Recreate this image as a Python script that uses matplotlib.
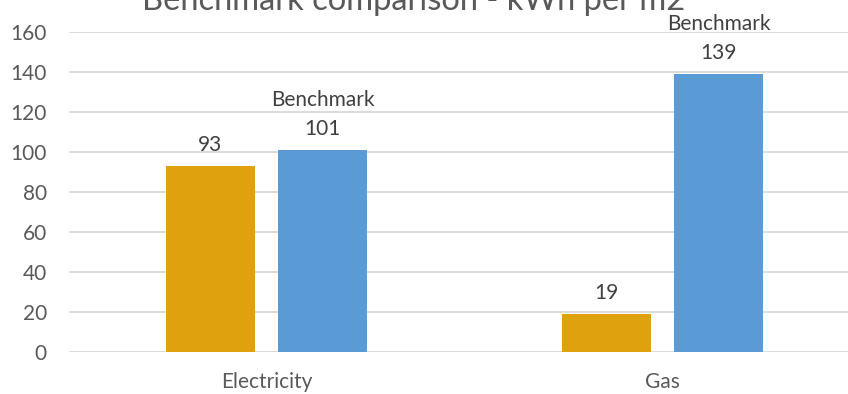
import matplotlib
matplotlib.use("Agg")
import matplotlib.pyplot as plt
import numpy as np

categories = ["Electricity", "Gas"]
actual = [93, 19]
benchmark = [101, 139]
yticks = [0, 20, 40, 60, 80, 100, 120, 140, 160]
title = "Benchmark comparison - kWh per m2"

plt.rcParams['font.family'] = ['Lato', 'DejaVu Sans']

W, H = 848, 394
fig = plt.figure(figsize=(W / 100, H / 100), dpi=100)
left_px, right_px = 68.5, 860.5
top_px, bot_px = 32, 352
ax = fig.add_axes([left_px / W, 1 - bot_px / H, (right_px - left_px) / W, (bot_px - top_px) / H])

x = np.arange(len(categories))
bw = 0.225
off = 0.1425
orange = "#DFA20E"
blue = "#5B9BD5"
ax.bar(x - off, actual, bw, color=orange, zorder=3)
ax.bar(x + off, benchmark, bw, color=blue, zorder=3)

ax.set_xlim(-0.5, len(categories) - 0.5)
ax.set_ylim(0, 160)
ax.set_yticks(yticks)
ax.set_yticklabels([str(t) for t in yticks])
ax.set_xticks(x)
ax.set_xticklabels(categories)
ax.grid(axis='y', color="#D9D9D9", linewidth=1.3, zorder=0)
for s in ax.spines.values():
    s.set_visible(False)
ax.tick_params(axis='both', length=0, labelsize=15, colors="#595959")
ax.tick_params(axis='y', pad=15.5)
ax.tick_params(axis='x', pad=14.5)

lab_col = "#404040"
fs = 15
for xi, v in zip(x - off, actual):
    ax.annotate(str(v), (xi, v), xytext=(0, 10.5), textcoords='offset points',
                ha='center', va='baseline', fontsize=fs, color=lab_col)
for xi, v in zip(x + off, benchmark):
    ax.annotate(str(v), (xi, v), xytext=(0, 10.5), textcoords='offset points',
                ha='center', va='baseline', fontsize=fs, color=lab_col)
    ax.annotate("Benchmark", (xi, v), xytext=(0, 31.5), textcoords='offset points',
                ha='center', va='baseline', fontsize=fs, color=lab_col)

fig.text(414 / W, 1 - 10 / H, title, ha='center', va='baseline', fontsize=23.5, color="#595959")

fig.savefig("out.png", dpi=100)
